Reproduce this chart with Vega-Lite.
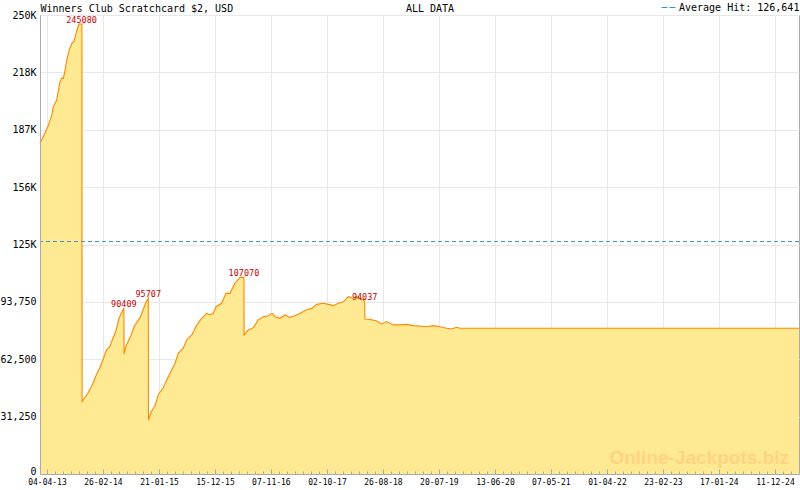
{
  "$schema": "https://vega.github.io/schema/vega-lite/v6.json",
  "width": 759,
  "height": 459,
  "autosize": {"type": "none"},
  "padding": {"left": 40, "top": 15, "right": 1, "bottom": 16},
  "background": "white",
  "datasets": {
    "jackpot": [
      {"date": "2013-02-22", "hit": 180000},
      {"date": "2013-03-23", "hit": 185600},
      {"date": "2013-04-12", "hit": 190000},
      {"date": "2013-05-02", "hit": 195500},
      {"date": "2013-05-11", "hit": 200000},
      {"date": "2013-05-31", "hit": 203700},
      {"date": "2013-06-19", "hit": 213700},
      {"date": "2013-06-29", "hit": 215500},
      {"date": "2013-07-09", "hit": 215500},
      {"date": "2013-07-19", "hit": 220000},
      {"date": "2013-07-29", "hit": 225500},
      {"date": "2013-08-13", "hit": 231000},
      {"date": "2013-08-27", "hit": 234600},
      {"date": "2013-09-09", "hit": 235500},
      {"date": "2013-09-21", "hit": 240000},
      {"date": "2013-10-05", "hit": 244000},
      {"date": "2013-10-09", "hit": 245080},
      {"date": "2013-10-26", "hit": 245080},
      {"date": "2013-10-27", "hit": 39500},
      {"date": "2013-11-30", "hit": 44000},
      {"date": "2013-12-30", "hit": 49400},
      {"date": "2014-01-18", "hit": 53900},
      {"date": "2014-02-07", "hit": 57600},
      {"date": "2014-02-26", "hit": 62100},
      {"date": "2014-03-18", "hit": 67500},
      {"date": "2014-04-07", "hit": 69300},
      {"date": "2014-04-26", "hit": 73900},
      {"date": "2014-05-15", "hit": 78400},
      {"date": "2014-05-31", "hit": 84800},
      {"date": "2014-06-14", "hit": 87500},
      {"date": "2014-06-29", "hit": 90409},
      {"date": "2014-06-30", "hit": 65400},
      {"date": "2014-07-07", "hit": 68500},
      {"date": "2014-07-23", "hit": 72000},
      {"date": "2014-08-11", "hit": 75700},
      {"date": "2014-08-27", "hit": 80200},
      {"date": "2014-09-16", "hit": 83000},
      {"date": "2014-10-05", "hit": 85700},
      {"date": "2014-10-19", "hit": 89300},
      {"date": "2014-11-04", "hit": 93300},
      {"date": "2014-11-19", "hit": 95707},
      {"date": "2014-11-20", "hit": 29400},
      {"date": "2014-12-07", "hit": 33900},
      {"date": "2014-12-30", "hit": 37600},
      {"date": "2015-01-18", "hit": 43500},
      {"date": "2015-02-12", "hit": 46500},
      {"date": "2015-03-16", "hit": 53000},
      {"date": "2015-04-05", "hit": 56600},
      {"date": "2015-04-25", "hit": 60300},
      {"date": "2015-05-14", "hit": 65700},
      {"date": "2015-06-12", "hit": 68500},
      {"date": "2015-07-02", "hit": 73000},
      {"date": "2015-08-01", "hit": 75700},
      {"date": "2015-08-30", "hit": 81200},
      {"date": "2015-09-28", "hit": 84800},
      {"date": "2015-10-28", "hit": 87500},
      {"date": "2015-11-16", "hit": 86600},
      {"date": "2015-12-05", "hit": 87500},
      {"date": "2015-12-21", "hit": 91100},
      {"date": "2016-01-23", "hit": 93000},
      {"date": "2016-02-18", "hit": 98400},
      {"date": "2016-03-12", "hit": 98400},
      {"date": "2016-04-10", "hit": 103900},
      {"date": "2016-05-10", "hit": 107070},
      {"date": "2016-06-02", "hit": 107070},
      {"date": "2016-06-03", "hit": 75700},
      {"date": "2016-06-27", "hit": 78400},
      {"date": "2016-07-27", "hit": 79700},
      {"date": "2016-08-25", "hit": 83900},
      {"date": "2016-09-23", "hit": 85700},
      {"date": "2016-10-23", "hit": 86200},
      {"date": "2016-11-15", "hit": 87500},
      {"date": "2016-12-01", "hit": 85700},
      {"date": "2016-12-30", "hit": 84800},
      {"date": "2017-01-29", "hit": 86600},
      {"date": "2017-02-27", "hit": 85300},
      {"date": "2017-03-28", "hit": 86200},
      {"date": "2017-04-27", "hit": 87500},
      {"date": "2017-06-01", "hit": 89300},
      {"date": "2017-07-04", "hit": 90200},
      {"date": "2017-08-03", "hit": 92400},
      {"date": "2017-09-10", "hit": 93000},
      {"date": "2017-10-10", "hit": 92400},
      {"date": "2017-11-08", "hit": 91700},
      {"date": "2017-12-07", "hit": 93000},
      {"date": "2018-01-06", "hit": 93800},
      {"date": "2018-02-04", "hit": 96600},
      {"date": "2018-03-05", "hit": 95700},
      {"date": "2018-04-03", "hit": 96600},
      {"date": "2018-04-19", "hit": 95500},
      {"date": "2018-05-11", "hit": 94037},
      {"date": "2018-05-12", "hit": 84400},
      {"date": "2018-06-11", "hit": 84200},
      {"date": "2018-07-20", "hit": 83300},
      {"date": "2018-08-19", "hit": 81700},
      {"date": "2018-09-17", "hit": 83000},
      {"date": "2018-10-26", "hit": 81200},
      {"date": "2018-12-04", "hit": 81200},
      {"date": "2019-01-12", "hit": 81500},
      {"date": "2019-02-20", "hit": 80800},
      {"date": "2019-03-31", "hit": 80600},
      {"date": "2019-05-10", "hit": 80200},
      {"date": "2019-06-17", "hit": 80800},
      {"date": "2019-07-27", "hit": 80200},
      {"date": "2019-09-04", "hit": 79400},
      {"date": "2019-10-03", "hit": 79000},
      {"date": "2019-11-01", "hit": 79900},
      {"date": "2019-11-21", "hit": 79400},
      {"date": "2025-05-01", "hit": 79400}
    ],
    "peaks": [
      {"date": "2013-10-24", "hit": 245080},
      {"date": "2014-06-29", "hit": 90409},
      {"date": "2014-11-19", "hit": 95707},
      {"date": "2016-06-02", "hit": 107070},
      {"date": "2018-05-11", "hit": 94037}
    ],
    "average": [
      {"hit": 126641, "name": "Average Hit: 126,641"}
    ],
    "watermark": [
      {"date": "2025-03-03", "hit": 5400, "label": "Online-Jackpots.biz"}
    ]
  },
  "resolve": {"axis": {"x": "independent", "y": "independent"}},
  "layer": [
    {
      "data": {"name": "jackpot"},
      "mark": {"type": "area", "color": "#ffe993", "opacity": 1, "line": {"color": "#ff8800", "strokeWidth": 1.1}},
      "encoding": {
        "x": {
          "field": "date", "type": "temporal",
          "scale": {"type": "utc", "domain": [1361491200000, 1746057600000], "nice": false},
          "axis": {
            "orient": "bottom",
            "values": [1365033600000, 1393372800000, 1421798400000, 1450137600000, 1478476800000, 1506902400000, 1535241600000,
                       1563580800000, 1592006400000, 1620345600000, 1648771200000, 1677110400000, 1705449600000, 1733875200000],
            "tickCount": 1000,
            "labelExpr": "utcFormat(datum.value, '%d-%m-%y')",
            "labelFontSize": 8,
            "labelFlush": false,
            "labelOverlap": false,
            "labelPadding": 4,
            "ticks": false,
            "domain": false,
            "grid": true,
            "title": "ALL DATA",
            "titleX": 389.5,
            "titleY": -463,
            "titleAlign": "center",
            "titleBaseline": "alphabetic",
            "titleFontSize": 10,
            "titleFontWeight": "normal",
            "titleColor": "#000000"
          }
        },
        "y": {
          "field": "hit", "type": "quantitative",
          "scale": {"domain": [0, 250000], "nice": false},
          "axis": {
            "orient": "left",
            "values": [0, 31250, 62500, 93750, 125000, 156250, 187500, 218750, 250000],
            "tickCount": 1000,
            "labelExpr": "datum.value >= 100000 ? floor(datum.value / 1000) + 'K' : format(datum.value, ',')",
            "labelBaseline": {"condition": {"test": "datum.value == 0", "value": "alphabetic"}, "value": "middle"},
            "ticks": false,
            "domain": false,
            "labelFontSize": 10,
            "labelPadding": 4,
            "grid": true,
            "title": "Winners Club Scratchcard $2, USD",
            "titleAngle": 0,
            "titleX": 0,
            "titleY": -4,
            "titleAlign": "left",
            "titleBaseline": "alphabetic",
            "titleFontSize": 10,
            "titleFontWeight": "normal",
            "titleColor": "#000000"
          }
        }
      }
    },
    {
      "data": {"name": "average"},
      "mark": {"type": "rule", "strokeDash": [4, 3], "strokeWidth": 1},
      "encoding": {
        "y": {"field": "hit", "type": "quantitative", "axis": null},
        "color": {
          "field": "name", "type": "nominal",
          "scale": {"range": ["#3a96c8"]},
          "legend": {"title": null, "orient": "none", "legendX": 621, "legendY": -15, "symbolType": "stroke", "symbolDash": [6, 2], "symbolStrokeWidth": 1, "symbolSize": 196, "labelFont": "DejaVu Sans Mono", "labelFontSize": 10, "labelColor": "#000000", "labelOffset": 3, "padding": 0}
        }
      }
    },
    {
      "data": {"name": "peaks"},
      "mark": {"type": "text", "font": "DejaVu Sans Mono", "fontSize": 8.5, "color": "#cc0000", "align": "center", "baseline": "alphabetic", "dy": -1},
      "encoding": {
        "x": {
          "field": "date", "type": "temporal",
          "axis": {
            "orient": "bottom",
            "values": [1365033600000, 1369137600000, 1373198400000, 1377259200000, 1381233600000, 1385294400000, 1389355200000,
                       1393372800000, 1397476800000, 1401537600000, 1405598400000, 1409659200000, 1413720000000, 1417780800000,
                       1421798400000, 1425902400000, 1429963200000, 1434024000000, 1437998400000, 1442059200000, 1446120000000,
                       1450137600000, 1454241600000, 1458302400000, 1462363200000, 1466337600000, 1470398400000, 1474459200000,
                       1478476800000, 1482580800000, 1486641600000, 1490702400000, 1494763200000, 1498824000000, 1502884800000,
                       1506902400000, 1511006400000, 1515067200000, 1519128000000, 1523102400000, 1527163200000, 1531224000000,
                       1535241600000, 1539345600000, 1543406400000, 1547467200000, 1551441600000, 1555502400000, 1559563200000,
                       1563580800000, 1567684800000, 1571745600000, 1575806400000, 1579867200000, 1583928000000, 1587988800000,
                       1592006400000, 1596110400000, 1600171200000, 1604232000000, 1608206400000, 1612267200000, 1616328000000,
                       1620345600000, 1624449600000, 1628510400000, 1632571200000, 1636632000000, 1640692800000, 1644753600000,
                       1648771200000, 1652875200000, 1656936000000, 1660996800000, 1664971200000, 1669032000000, 1673092800000,
                       1677110400000, 1681214400000, 1685275200000, 1689336000000, 1693310400000, 1697371200000, 1701432000000,
                       1705449600000, 1709553600000, 1713614400000, 1717675200000, 1721736000000, 1725796800000, 1729857600000,
                       1733875200000, 1737979200000, 1742040000000],
            "tickCount": 1000,
            "labels": false,
            "grid": false,
            "domain": true,
            "ticks": true,
            "tickSize": {"condition": {"test": "utchours(datum.value) == 0", "value": -5}, "value": -3},
            "title": null,
            "zindex": 1
          }
        },
        "y": {
          "field": "hit", "type": "quantitative",
          "axis": {"orient": "left", "labels": false, "ticks": false, "grid": false, "domain": true, "title": null, "zindex": 1}
        },
        "text": {"field": "hit", "type": "quantitative", "format": "d"}
      }
    },
    {
      "data": {"name": "watermark"},
      "mark": {"type": "text", "font": "Liberation Sans", "fontWeight": "bold", "fontSize": 19, "color": "#ffd382", "align": "right", "baseline": "alphabetic"},
      "encoding": {
        "x": {"field": "date", "type": "temporal", "axis": null},
        "y": {"field": "hit", "type": "quantitative", "axis": null},
        "text": {"field": "label", "type": "nominal"}
      }
    }
  ],
  "config": {
    "view": {"stroke": "#aaaaaa"},
    "axis": {"domainColor": "#aaaaaa", "tickColor": "#aaaaaa", "gridColor": "#e8e8e8", "labelFont": "DejaVu Sans Mono", "labelColor": "#000000", "titleFont": "DejaVu Sans Mono"}
  }
}
